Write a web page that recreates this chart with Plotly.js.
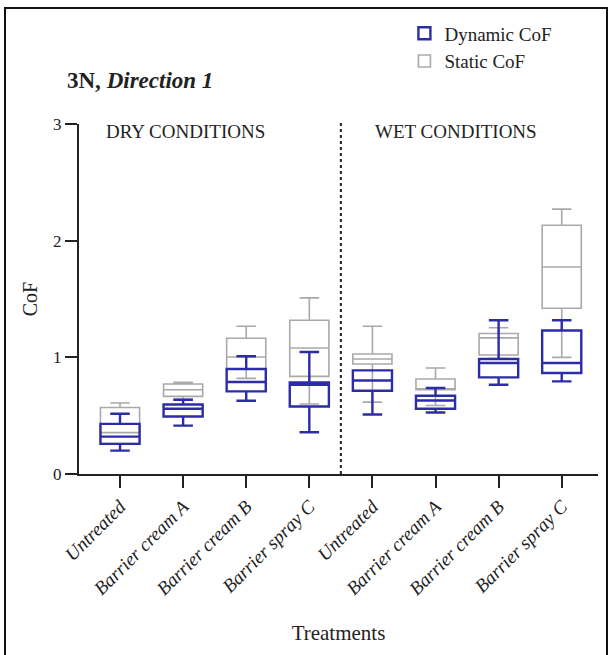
<!DOCTYPE html>
<html>
<head>
<meta charset="utf-8">
<script src="https://cdn.plot.ly/plotly-3.0.1.min.js"></script>
<style>
  html, body { margin: 0; padding: 0; background: #fff; }
  #wrap { position: relative; width: 612px; height: 655px; overflow: hidden; }
  #chart { width: 612px; height: 655px; }
  #frame { position: absolute; left: 4px; top: 7px; width: 604px; height: 670px;
           border: 2px solid #111; pointer-events: none; box-sizing: border-box; }
</style>
</head>
<body>
<div id="wrap">
  <div id="chart"></div>
  <div id="frame"></div>
</div>
<script>
// Category positions and labels
const positions = [0, 1, 2, 3, 4, 5, 6, 7];
const tickLabels = ["Untreated", "Barrier cream A", "Barrier cream B", "Barrier spray C",
                    "Untreated", "Barrier cream A", "Barrier cream B", "Barrier spray C"];

// Static CoF (grey boxes)
const staticLower  = [0.26, 0.64, 0.82, 0.60, 0.616, 0.587, 0.99, 1.00];
const staticQ1     = [0.262, 0.665, 0.90, 0.837, 0.943, 0.722, 1.02, 1.421];
const staticMedian = [0.355, 0.722, 1.003, 1.08, 0.986, 0.73, 1.167, 1.774];
const staticQ3     = [0.57, 0.771, 1.163, 1.318, 1.029, 0.814, 1.204, 2.132];
const staticUpper  = [0.608, 0.785, 1.267, 1.51, 1.267, 0.909, 1.253, 2.27];

// Dynamic CoF (blue boxes)
const dynLower  = [0.20, 0.415, 0.628, 0.358, 0.51, 0.527, 0.765, 0.794];
const dynQ1     = [0.258, 0.493, 0.708, 0.579, 0.714, 0.559, 0.828, 0.866];
const dynMedian = [0.32, 0.559, 0.788, 0.765, 0.802, 0.63, 0.952, 0.952];
const dynQ3     = [0.43, 0.596, 0.90, 0.785, 0.888, 0.671, 0.986, 1.23];
const dynUpper  = [0.516, 0.636, 1.009, 1.046, 0.888, 0.737, 1.318, 1.318];

const serif = "Liberation Serif, Times New Roman, serif";
const ink = "#222";

const staticTrace = {
  type: "box", name: "Static CoF", x: positions,
  q1: staticQ1, median: staticMedian, q3: staticQ3,
  lowerfence: staticLower, upperfence: staticUpper,
  width: 0.62, whiskerwidth: 0.5, boxpoints: false,
  line: { color: "#a9a9a9", width: 1.6 },
  fillcolor: "rgba(0,0,0,0)", hoverinfo: "skip"
};
const dynTrace = {
  type: "box", name: "Dynamic CoF", x: positions,
  q1: dynQ1, median: dynMedian, q3: dynQ3,
  lowerfence: dynLower, upperfence: dynUpper,
  width: 0.62, whiskerwidth: 0.5, boxpoints: false,
  line: { color: "#2c2ca6", width: 2.4 },
  fillcolor: "rgba(0,0,0,0)", hoverinfo: "skip"
};

const layout = {
  width: 612, height: 655,
  margin: { l: 79, r: 14, t: 124, b: 181 },
  paper_bgcolor: "#fff", plot_bgcolor: "#fff",
  font: { family: serif, color: ink },
  boxmode: "overlay",
  showlegend: true,
  legend: {
    x: 0.627, y: 1.313, xanchor: "left", yanchor: "top",
    traceorder: "reversed",
    font: { family: serif, size: 19, color: ink },
    bgcolor: "rgba(0,0,0,0)"
  },
  xaxis: {
    range: [-0.65, 7.575],
    tickmode: "array", tickvals: positions, ticktext: tickLabels,
    tickangle: -45,
    tickfont: { family: serif, size: 19, style: "italic", color: ink },
    ticks: "outside", ticklen: 12, tickwidth: 2, tickcolor: ink,
    showline: true, linewidth: 2, linecolor: ink,
    showgrid: false, zeroline: false,
    title: { text: "Treatments", font: { family: serif, size: 21, color: ink }, standoff: 27 }
  },
  yaxis: {
    range: [0, 3],
    tickmode: "array", tickvals: [0, 1, 2, 3],
    tickfont: { family: serif, size: 17, color: ink },
    ticks: "outside", ticklen: 12, tickwidth: 2, tickcolor: ink,
    showline: true, linewidth: 2, linecolor: ink,
    showgrid: false, zeroline: false,
    title: { text: "CoF", font: { family: serif, size: 20, color: ink }, standoff: 10 }
  },
  shapes: [{
    type: "line", xref: "x", yref: "paper",
    x0: 3.5, x1: 3.5, y0: 0, y1: 1.01,
    line: { color: ink, width: 2, dash: "dot" }
  }],
  annotations: [
    { text: "<b>3N, <i>Direction 1</i></b>", xref: "paper", yref: "paper",
      x: -0.027, y: 1.125, xanchor: "left", yanchor: "middle", showarrow: false,
      font: { family: serif, size: 23, color: ink } },
    { text: "DRY CONDITIONS", xref: "x", yref: "y",
      x: 1.03, y: 2.94, xanchor: "center", yanchor: "middle", showarrow: false,
      font: { family: serif, size: 19, color: ink } },
    { text: "WET CONDITIONS", xref: "x", yref: "y",
      x: 5.32, y: 2.94, xanchor: "center", yanchor: "middle", showarrow: false,
      font: { family: serif, size: 19, color: ink } }
  ]
};

Plotly.newPlot("chart", [staticTrace, dynTrace], layout, { staticPlot: true, displayModeBar: false });
</script>
</body>
</html>
